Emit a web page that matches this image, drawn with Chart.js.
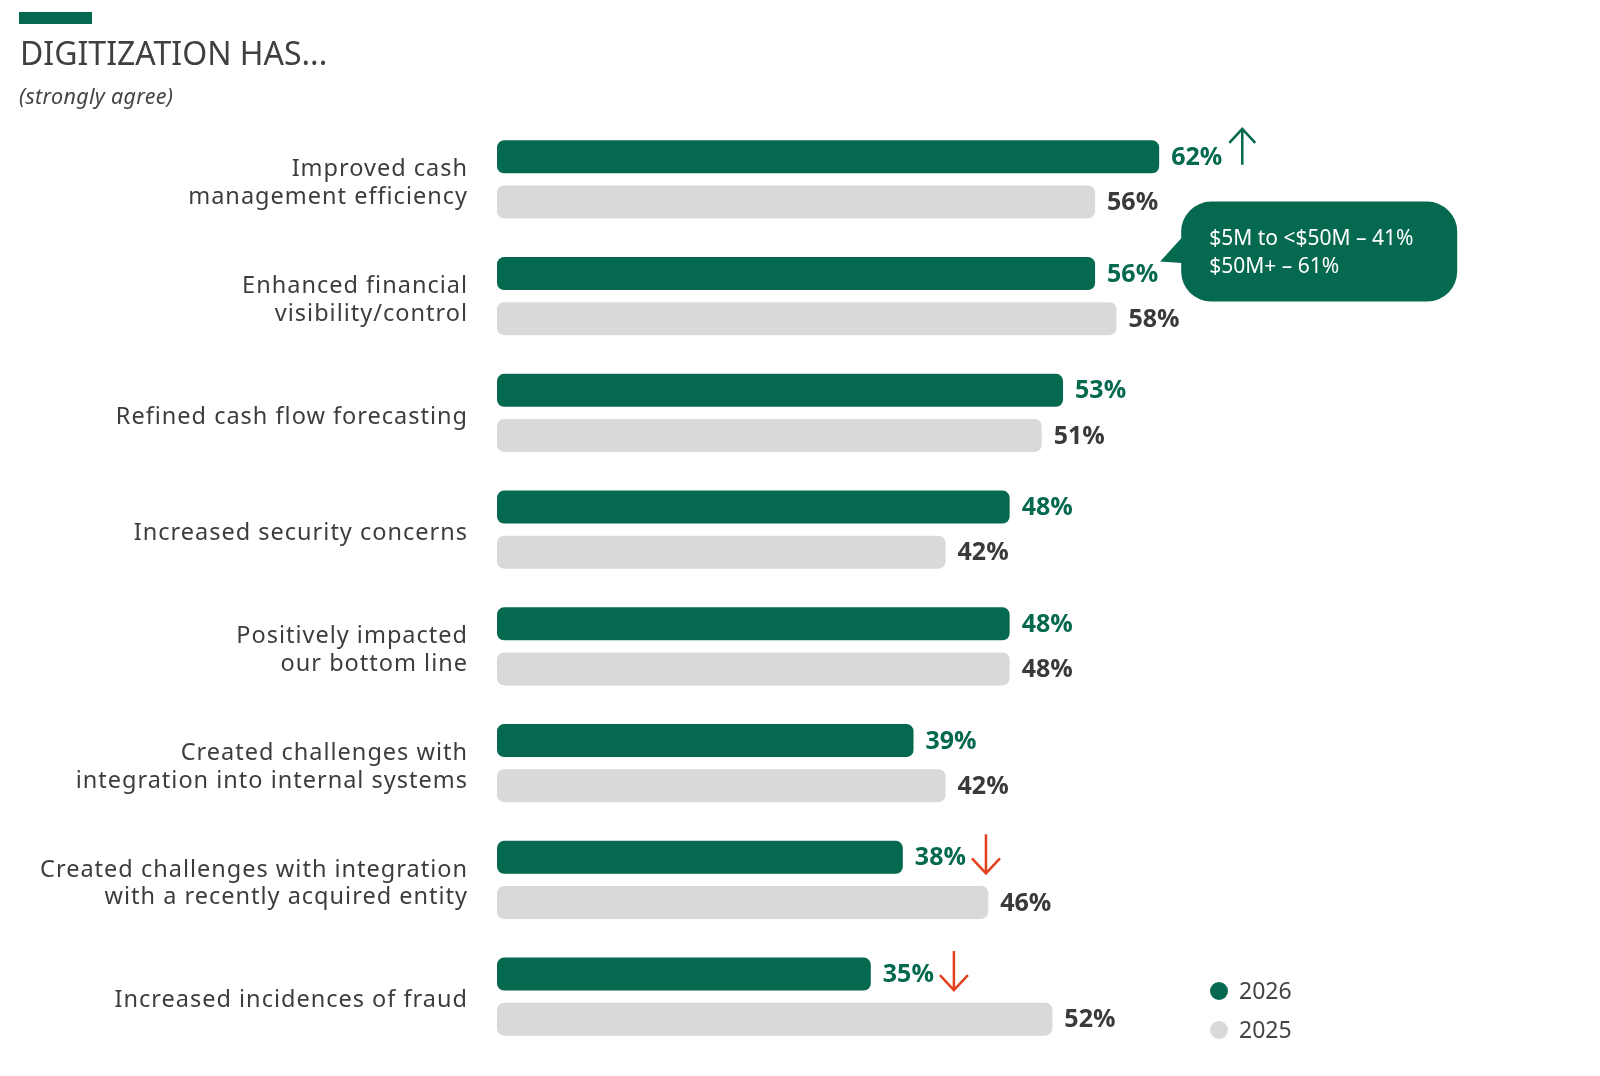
<!DOCTYPE html>
<html>
<head>
<meta charset="utf-8">
<script src="https://cdn.jsdelivr.net/npm/chart.js@4.4.1/dist/chart.umd.min.js"></script>
<style>
  html, body { margin: 0; padding: 0; background: #ffffff; overflow: hidden; }
  #wrap { position: relative; width: 1600px; height: 1076px; overflow: hidden; }
  canvas { display: block; }
</style>
</head>
<body>
<div id="wrap"><canvas id="c" width="1600" height="1076"></canvas></div>
<script>
// ---- Data ----
const categories = [
  ["Improved cash", "management efficiency"],
  ["Enhanced financial", "visibility/control"],
  ["Refined cash flow forecasting"],
  ["Increased security concerns"],
  ["Positively impacted", "our bottom line"],
  ["Created challenges with", "integration into internal systems"],
  ["Created challenges with integration", "with a recently acquired entity"],
  ["Increased incidences of fraud"]
];
const seriesLabels = ["2026", "2025"];
const values2026 = [62, 56, 53, 48, 48, 39, 38, 35];
const values2025 = [56, 58, 51, 42, 48, 42, 46, 52];
const trends2026 = ["up", null, null, null, null, null, "down", "down"];
const calloutIndex = 1;
const calloutLines = ["$5M to <$50M \u2013 41%", "$50M+ \u2013 61%"];
const titleText = "DIGITIZATION HAS...";
const subtitleText = "(strongly agree)";

// ---- Styles ----
const GREEN = "#04694F";
const GRAY = "#DAD9D7";
const TEXT = "#3d3d3d";
const RED = "#E2411F";
const BASE_FONT = "'Noto Sans', 'Open Sans', sans-serif";
const LABEL_FONT = "'Open Sans', 'Noto Sans', sans-serif";

// letter spacing for the category tick labels (Chart.js draws them inside this state)
const spacingPlugin = {
  id: "spacing",
  beforeDraw(chart) { chart.ctx.letterSpacing = "1px"; },
  beforeDatasetsDraw(chart) { chart.ctx.letterSpacing = "0px"; }
};

const decorPlugin = {
  id: "decor",
  afterDatasetsDraw(chart) {
    const ctx = chart.ctx;
    ctx.save();
    ctx.letterSpacing = "0px";
    const labelColors = [GREEN, "#3a3a3a"];
    const labelEnds = [[], []];
    chart.data.datasets.forEach((ds, di) => {
      const meta = chart.getDatasetMeta(di);
      meta.data.forEach((el, i) => {
        const txt = ds.data[i] + "%";
        ctx.font = "700 25px " + LABEL_FONT;
        ctx.fillStyle = labelColors[di];
        ctx.textAlign = "left";
        ctx.textBaseline = "middle";
        const x = el.x + 12;
        ctx.fillText(txt, x, el.y + 1);
        labelEnds[di][i] = x + ctx.measureText(txt).width;
      });
    });

    // trend arrows
    const meta0 = chart.getDatasetMeta(0);
    trends2026.forEach((t, i) => {
      if (!t) return;
      const el = meta0.data[i];
      const ax = labelEnds[0][i] + 20;
      ctx.lineWidth = 2.5;
      ctx.lineCap = "butt";
      ctx.lineJoin = "miter";
      ctx.beginPath();
      if (t === "up") {
        ctx.strokeStyle = GREEN;
        const top = el.y - 28, bot = el.y + 8;
        ctx.moveTo(ax, bot); ctx.lineTo(ax, top);
        ctx.moveTo(ax - 13, top + 14); ctx.lineTo(ax, top); ctx.lineTo(ax + 13, top + 14);
      } else {
        ctx.strokeStyle = RED;
        const top = el.y - 23, bot = el.y + 16;
        ctx.moveTo(ax, top); ctx.lineTo(ax, bot);
        ctx.moveTo(ax - 14, bot - 15); ctx.lineTo(ax, bot); ctx.lineTo(ax + 14, bot - 15);
      }
      ctx.stroke();
    });

    // callout bubble
    const cel = meta0.data[calloutIndex];
    const tipX = labelEnds[0][calloutIndex] + 2;
    const tipY = cel.y - 12;
    const bx = tipX + 21, by = cel.y - 72, bw = 276, bh = 100, r = 30;
    ctx.fillStyle = GREEN;
    ctx.beginPath();
    ctx.roundRect(bx, by, bw, bh, r);
    ctx.fill();
    ctx.beginPath();
    ctx.moveTo(bx + 8, cel.y - 44);
    ctx.lineTo(tipX, tipY);
    ctx.lineTo(bx + 8, cel.y - 10);
    ctx.closePath();
    ctx.fill();
    ctx.fillStyle = "#ffffff";
    ctx.font = "400 21px " + BASE_FONT;
    ctx.textAlign = "left";
    ctx.textBaseline = "middle";
    ctx.fillText(calloutLines[0], bx + 28, cel.y - 35);
    ctx.fillText(calloutLines[1], bx + 28, cel.y - 7);

    // title
    ctx.fillStyle = GREEN;
    ctx.fillRect(19, 12, 73, 12);
    ctx.fillStyle = "#404040";
    ctx.font = "400 32px " + BASE_FONT;
    ctx.textBaseline = "alphabetic";
    ctx.fillText(titleText, 20, 65);
    ctx.fillStyle = "#454545";
    ctx.font = "italic 400 21.5px " + BASE_FONT;
    ctx.letterSpacing = "0.3px";
    ctx.fillText(subtitleText, 19, 104);
    ctx.letterSpacing = "0px";

    // legend
    const legendColors = [GREEN, GRAY];
    const legendY = [991, 1030];
    seriesLabels.forEach((lab, k) => {
      ctx.fillStyle = legendColors[k];
      ctx.beginPath();
      ctx.arc(1219, legendY[k], 9, 0, Math.PI * 2);
      ctx.fill();
      ctx.fillStyle = "#444444";
      ctx.font = "400 23px " + BASE_FONT;
      ctx.textBaseline = "middle";
      ctx.fillText(lab, 1239, legendY[k] + 1);
    });
    ctx.restore();
  }
};

new Chart(document.getElementById("c"), {
  type: "bar",
  data: {
    labels: categories,
    datasets: [
      {
        label: seriesLabels[0],
        data: values2026,
        backgroundColor: GREEN,
        borderRadius: 7,
        borderSkipped: false,
        categoryPercentage: 0.772,
        barPercentage: 0.733
      },
      {
        label: seriesLabels[1],
        data: values2025,
        backgroundColor: GRAY,
        borderRadius: 7,
        borderSkipped: false,
        categoryPercentage: 0.772,
        barPercentage: 0.733
      }
    ]
  },
  options: {
    indexAxis: "y",
    responsive: false,
    maintainAspectRatio: false,
    animation: false,
    devicePixelRatio: 1,
    layout: { padding: { top: 121, bottom: 21, left: 0, right: 35 } },
    plugins: {
      legend: { display: false },
      tooltip: { enabled: false },
      title: { display: false }
    },
    scales: {
      x: { min: 0, max: 100, display: false },
      y: {
        grid: { display: false, drawTicks: false },
        border: { display: false },
        ticks: {
          color: TEXT,
          padding: 29,
          labelOffset: 4,
          font: { family: BASE_FONT, size: 23.5, lineHeight: 1.17 }
        },
        afterFit(scale) {
          scale.width = 497;
          scale.paddingTop = 0;
          scale.paddingBottom = 0;
        }
      }
    }
  },
  plugins: [spacingPlugin, decorPlugin]
});
</script>
</body>
</html>
